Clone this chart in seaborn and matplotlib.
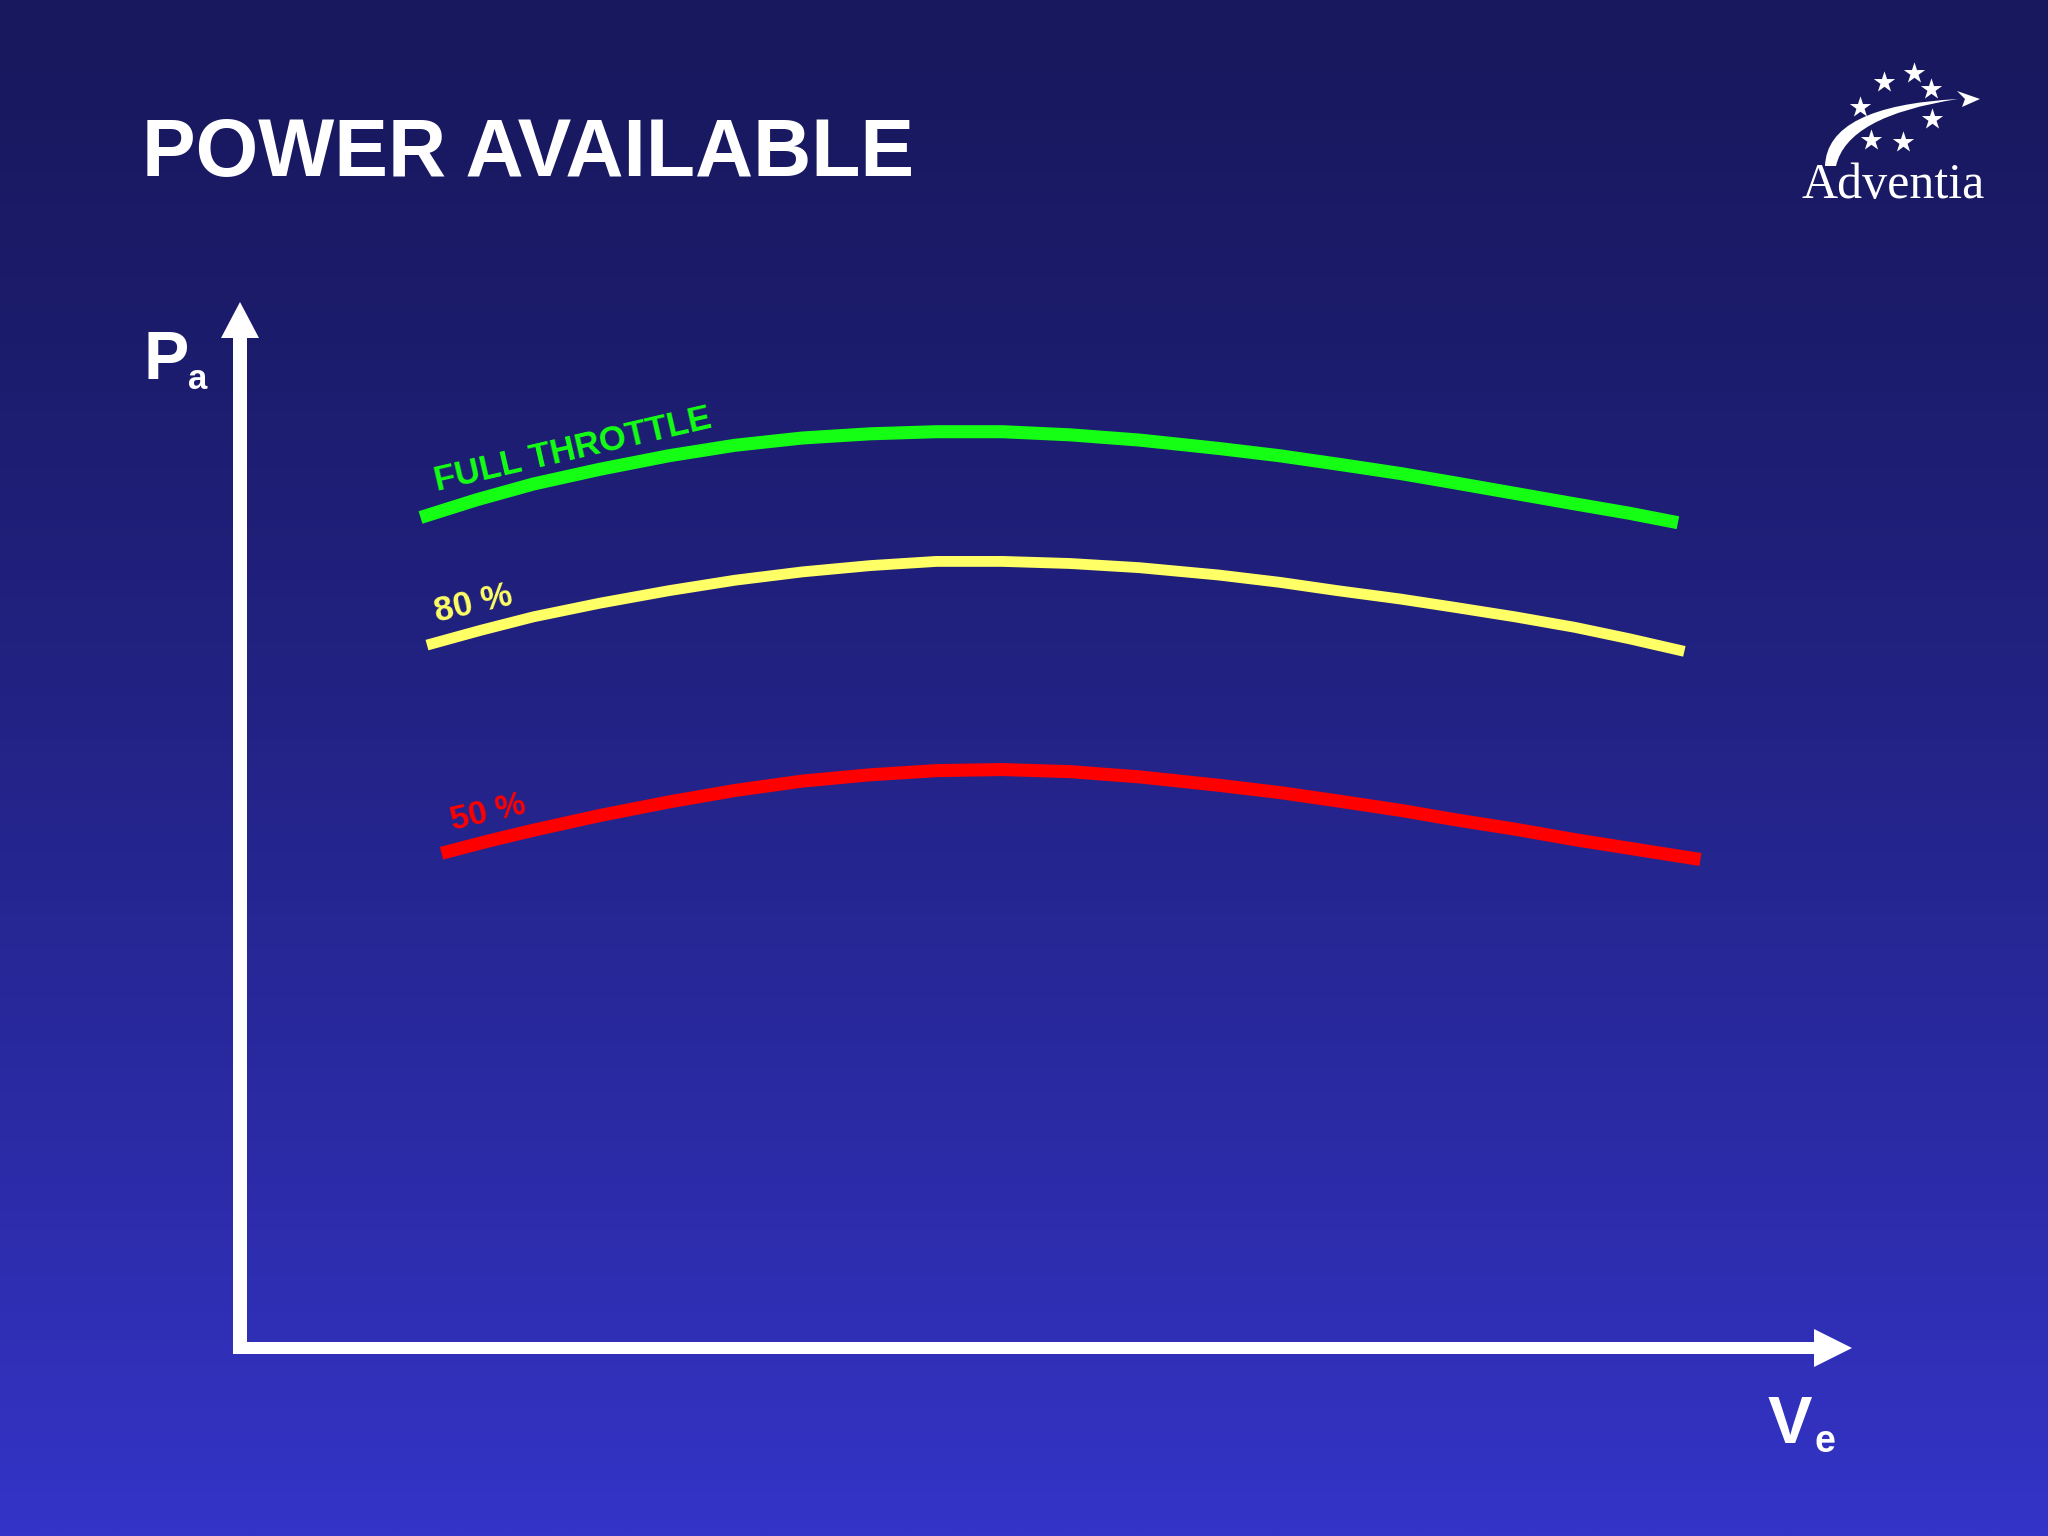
import numpy as np
import pandas as pd
import matplotlib
matplotlib.use("Agg")
import matplotlib.pyplot as plt
from matplotlib.patches import Polygon, PathPatch
from matplotlib.path import Path
import seaborn as sns

# ---------------- data (arbitrary units) ----------------
ve_full = [11.2, 14.7, 18.2, 22.3, 26.6, 30.7, 34.9, 39.1, 43.2, 47.3, 51.5,
           55.8, 60.7, 64.5, 68.1, 72.0, 75.4, 79.1, 82.8, 86.2, 89.2]
pa_full = [79.4, 81.1, 82.6, 84.0, 85.3, 86.3, 87.0, 87.4, 87.6, 87.6, 87.3,
           86.8, 86.0, 85.3, 84.5, 83.6, 82.7, 81.7, 80.7, 79.8, 78.9]
ve_80 = [11.6, 14.9, 18.2, 22.3, 26.6, 30.7, 34.9, 39.1, 43.2, 47.3, 51.5,
         55.8, 60.7, 64.5, 68.1, 72.0, 75.4, 79.1, 82.8, 86.2, 89.6]
pa_80 = [67.2, 68.6, 69.9, 71.2, 72.4, 73.4, 74.2, 74.8, 75.2, 75.2, 75.0,
         74.6, 73.9, 73.2, 72.4, 71.6, 70.8, 69.9, 68.9, 67.8, 66.6]
ve_50 = [12.5, 15.5, 18.2, 22.3, 26.6, 30.7, 34.9, 39.1, 43.2, 47.3, 51.5,
         55.8, 60.7, 64.5, 68.1, 72.0, 75.4, 79.1, 82.8, 86.9, 90.6]
pa_50 = [47.3, 48.5, 49.5, 50.9, 52.2, 53.3, 54.2, 54.8, 55.2, 55.3, 55.1,
         54.6, 53.8, 53.1, 52.3, 51.4, 50.5, 49.6, 48.6, 47.6, 46.7]
series_names = ["FULL THROTTLE", "80 %", "50 %"]

df = pd.concat([
    pd.DataFrame({"Ve": ve_full, "Pa": pa_full, "setting": series_names[0]}),
    pd.DataFrame({"Ve": ve_80, "Pa": pa_80, "setting": series_names[1]}),
    pd.DataFrame({"Ve": ve_50, "Pa": pa_50, "setting": series_names[2]}),
], ignore_index=True)

# ---------------- style ----------------
sns.set_style("white")
plt.rcParams["font.family"] = ["Liberation Sans", "DejaVu Sans"]

W, H = 2048, 1536
fig = plt.figure(figsize=(W / 100, H / 100), dpi=100)

# background gradient
bg = fig.add_axes([0, 0, 1, 1])
top = np.array([24, 24, 94]) / 255.0
bot = np.array([52, 52, 200]) / 255.0
t = np.linspace(0, 1, 512)[:, None] ** 1.3
grad = top[None, :] * (1 - t) + bot[None, :] * t
grad = np.repeat(grad[:, None, :], 4, axis=1)
bg.imshow(grad, aspect="auto", extent=[0, 1, 0, 1], origin="upper")
bg.set_axis_off()

# decoration layer in pixel coordinates
deco = fig.add_axes([0, 0, 1, 1])
deco.set_xlim(0, W)
deco.set_ylim(H, 0)
deco.set_axis_off()
deco.patch.set_alpha(0)

# axis arrows
white = "#ffffff"
deco.add_patch(Polygon([[233, 1354], [247, 1354], [247, 336], [233, 336]], closed=True, fc=white, ec="none"))
deco.add_patch(Polygon([[221, 338], [259, 338], [240, 302]], closed=True, fc=white, ec="none"))
deco.add_patch(Polygon([[233, 1342], [1816, 1342], [1816, 1354], [233, 1354]], closed=True, fc=white, ec="none"))
deco.add_patch(Polygon([[1814, 1329], [1814, 1367], [1852, 1348]], closed=True, fc=white, ec="none"))

# axis labels
deco.text(144, 379, "P", fontsize=49, fontweight="bold", color=white, ha="left", va="baseline")
deco.text(188, 389, "a", fontsize=25, fontweight="bold", color=white, ha="left", va="baseline")
deco.text(1768, 1443, "V", fontsize=48, fontweight="bold", color=white, ha="left", va="baseline")
deco.text(1815, 1452, "e", fontsize=27, fontweight="bold", color=white, ha="left", va="baseline")

# title
deco.text(142, 176, "POWER AVAILABLE", fontsize=58, fontweight="bold", color=white,
          ha="left", va="baseline")

# logo
deco.text(1801, 198, "Adventia", fontsize=36, color=white, ha="left", va="baseline",
          family=["Liberation Serif", "DejaVu Serif"])
stars_x = [1884, 1914, 1931, 1860, 1932, 1871, 1903]
stars_y = [82, 73, 89, 107, 119, 140, 142]
deco.scatter(stars_x, stars_y, marker="*", s=260, color=white, linewidths=0)
verts = [(1825, 166), (1827, 106), (1958, 99), (1847, 116), (1836, 166), (1825, 166)]
codes = [Path.MOVETO, Path.CURVE3, Path.CURVE3, Path.CURVE3, Path.CURVE3, Path.CLOSEPOLY]
deco.add_patch(PathPatch(Path(verts, codes), fc=white, ec="none"))
deco.add_patch(Polygon([[1957, 91], [1980, 99], [1962, 107], [1965, 99]], closed=True, fc=white, ec="none"))

# ---------------- main plot ----------------
ax = fig.add_axes([240 / W, 1 - 1348 / H, (1852 - 240) / W, (1348 - 302) / H])
ax.patch.set_alpha(0)
ax.set_xlim(0, 100)
ax.set_ylim(0, 100)

colors = {"FULL THROTTLE": "#14ff14", "80 %": "#ffff66", "50 %": "#ff0000"}
widths = {"FULL THROTTLE": 9.4, "80 %": 7.8, "50 %": 9.4}
for name in series_names:
    sub = df[df["setting"] == name]
    sns.lineplot(data=sub, x="Ve", y="Pa", ax=ax, color=colors[name], linewidth=widths[name],
                 sort=False, estimator=None, legend=False,
                 solid_capstyle="butt", solid_joinstyle="round")
ax.set_axis_off()

ax.text(12.2, 81.9, "FULL THROTTLE", fontsize=25, fontweight="bold", color=colors["FULL THROTTLE"],
        rotation=13, rotation_mode="anchor", ha="left", va="baseline")
ax.text(12.2, 69.4, "80 %", fontsize=25, fontweight="bold", color=colors["80 %"],
        rotation=13, rotation_mode="anchor", ha="left", va="baseline")
ax.text(13.2, 49.5, "50 %", fontsize=24, fontweight="bold", color=colors["50 %"],
        rotation=13, rotation_mode="anchor", ha="left", va="baseline")

fig.savefig("out.png", dpi=100)
